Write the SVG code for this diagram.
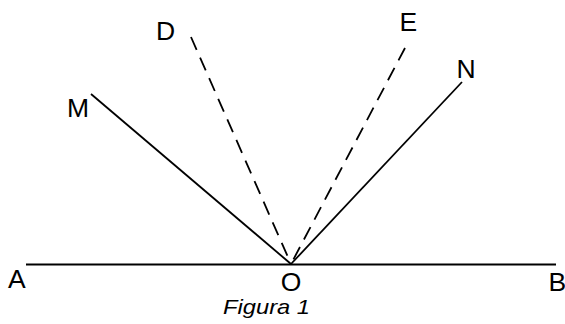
<svg xmlns="http://www.w3.org/2000/svg" width="565" height="324" viewBox="0 0 565 324">
<style>
.ln{stroke:#000;stroke-width:1.8;fill:none}
.dash{stroke-dasharray:14 8.5}
.lbl{font-family:"Liberation Sans",Arial,sans-serif;font-size:26.5px;fill:#000}
.cap{font-family:"Liberation Sans",Arial,sans-serif;font-size:21px;font-style:italic;fill:#000}
</style>
<rect width="565" height="324" fill="#fff"/>
<g id="connectors">
<line class="ln" x1="26" y1="264.5" x2="556" y2="264.5" stroke-width="2"/>
<line class="ln" x1="91" y1="94" x2="291" y2="264"/>
<line class="ln" x1="462" y1="82" x2="291" y2="264"/>
<line class="ln dash" x1="191" y1="37" x2="291" y2="264"/>
<line class="ln dash" x1="405" y1="48" x2="291" y2="264"/>
</g>
<g id="A"><text class="lbl" x="8" y="288">A</text></g>
<g id="B"><text class="lbl" x="548.5" y="291">B</text></g>
<g id="O"><text class="lbl" x="291" y="291" text-anchor="middle">O</text></g>
<g id="M"><text class="lbl" x="67" y="116.5">M</text></g>
<g id="D"><text class="lbl" x="156" y="40">D</text></g>
<g id="E"><text class="lbl" x="399.5" y="31">E</text></g>
<g id="N"><text class="lbl" x="456.5" y="77.5">N</text></g>
<g id="caption"><text class="cap" x="223" y="314" textLength="87" lengthAdjust="spacingAndGlyphs">Figura 1</text></g>
</svg>
